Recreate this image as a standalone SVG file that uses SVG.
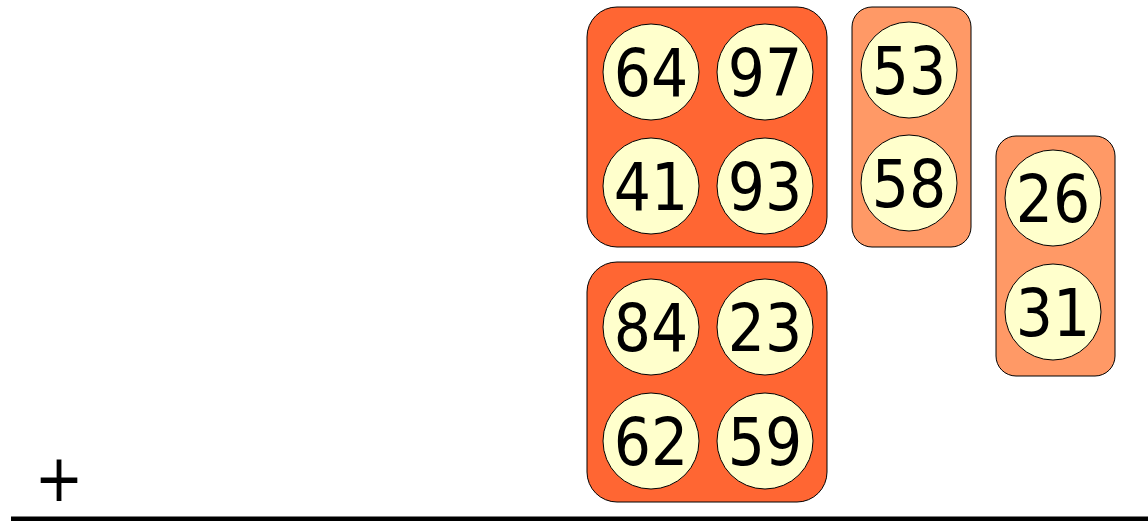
<svg xmlns="http://www.w3.org/2000/svg" width="1148" height="521" viewBox="0 0 1148 521">
<style>
.box{stroke:#000;stroke-width:1}
.dark{fill:#FF6633}
.light{fill:#FF9966}
.ball{fill:#FFFFCC;stroke:#000;stroke-width:1}
.num{font-family:"DejaVu Sans Condensed","DejaVu Sans",sans-serif;font-stretch:condensed;font-size:65px;fill:#000;text-anchor:middle}
</style>
<rect width="1148" height="521" fill="#fff"/>
<g id="group1">
<rect class="box dark" x="587" y="7" width="240" height="240" rx="30"/>
<g id="n64"><circle class="ball" cx="651" cy="72" r="48"/><text class="num" x="651" y="96">64</text></g>
<g id="n97"><circle class="ball" cx="765" cy="72" r="48"/><text class="num" x="765" y="96">97</text></g>
<g id="n41"><circle class="ball" cx="651" cy="186" r="48"/><text class="num" x="651" y="210">41</text></g>
<g id="n93"><circle class="ball" cx="765" cy="186" r="48"/><text class="num" x="765" y="210">93</text></g>
</g>
<g id="group2">
<rect class="box dark" x="587" y="262" width="240" height="240" rx="30"/>
<g id="n84"><circle class="ball" cx="651" cy="327" r="48"/><text class="num" x="651" y="351">84</text></g>
<g id="n23"><circle class="ball" cx="765" cy="327" r="48"/><text class="num" x="765" y="351">23</text></g>
<g id="n62"><circle class="ball" cx="651" cy="441" r="48"/><text class="num" x="651" y="465">62</text></g>
<g id="n59"><circle class="ball" cx="765" cy="441" r="48"/><text class="num" x="765" y="465">59</text></g>
</g>
<g id="group3">
<rect class="box light" x="852" y="7" width="119" height="240" rx="20"/>
<g id="n53"><circle class="ball" cx="909" cy="70" r="48"/><text class="num" x="909" y="94">53</text></g>
<g id="n58"><circle class="ball" cx="909" cy="183" r="48"/><text class="num" x="909" y="207">58</text></g>
</g>
<g id="group4">
<rect class="box light" x="996" y="136" width="119" height="240" rx="20"/>
<g id="n26"><circle class="ball" cx="1053" cy="198" r="48"/><text class="num" x="1053" y="222">26</text></g>
<g id="n31"><circle class="ball" cx="1053" cy="312" r="48"/><text class="num" x="1053" y="336">31</text></g>
</g>
<g id="connectors"></g>
<text class="num" x="59" y="501">+</text>
<rect x="11" y="516.5" width="1137" height="5" fill="#000"/>
</svg>
